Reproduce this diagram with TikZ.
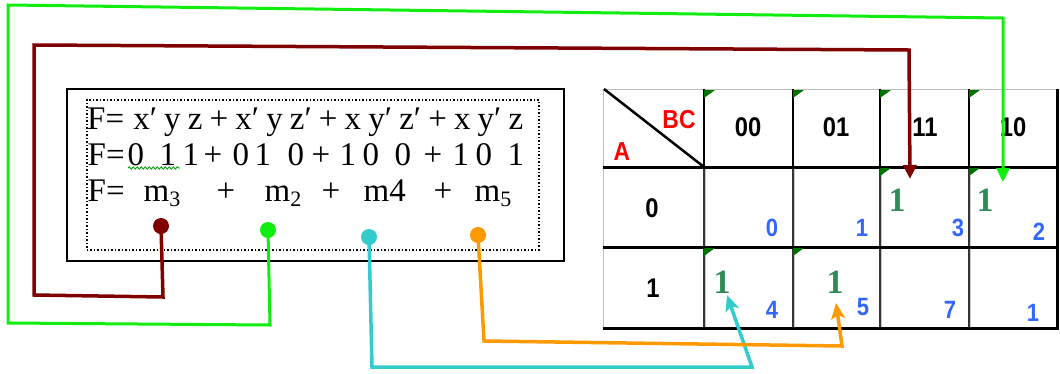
\documentclass[tikz,border=0pt]{standalone}
\usepackage{fontspec}
\setmainfont{Liberation Serif}
\newfontfamily\kfont[FakeStretch=0.88]{Liberation Sans}
\usetikzlibrary{arrows.meta,decorations.pathmorphing}
\definecolor{dred}{HTML}{800000}
\definecolor{lgreen}{HTML}{10EE10}
\definecolor{lcyan}{HTML}{33CCCC}
\definecolor{lorange}{HTML}{FF9900}
\definecolor{onegreen}{HTML}{2E8B57}
\definecolor{idxblue}{HTML}{3366FF}
\definecolor{cornergreen}{HTML}{007000}
\newcommand\tk[2]{\makebox[0pt][l]{\hspace*{#1pt}#2}}
\newcommand\sbs[1]{\raisebox{-5pt}{\fontsize{22}{22}\selectfont #1}}
\tikzset{
  eqtext/.style={anchor=base west, inner sep=0pt, font=\fontsize{33}{33}\selectfont},
  hdr/.style={inner sep=0pt, font=\kfont\bfseries\fontsize{27}{27}\selectfont},
  idx/.style={inner sep=0pt, text=idxblue, font=\kfont\bfseries\fontsize{25}{25}\selectfont},
  one/.style={inner sep=0pt, text=onegreen, font=\bfseries\fontsize{34}{34}\selectfont},
  lbl/.style={inner sep=0pt, text=red, font=\kfont\bfseries\fontsize{26}{26}\selectfont},
  dot/.style={circle, fill=#1, inner sep=0pt, minimum size=16pt},
  conn/.style={draw=#1, line width=3.5pt, line join=miter},
  thickl/.style={line width=3pt, black},
  corner/.style={fill=cornergreen},
}
\begin{document}
\begin{tikzpicture}[x=1pt,y=-1pt]
\useasboundingbox (0,0) rectangle (1060,373);
% equation box
\node[draw, line width=2pt, minimum width=497pt, minimum height=172pt, anchor=north west, inner sep=0pt] (eqbox) at (66,88) {};
\node[draw, dotted, line width=1.5pt, minimum width=452pt, minimum height=150pt, anchor=north west, inner sep=0pt] (dotbox) at (86,99) {};
\node[eqtext] (l1) at (87,129) {\makebox[436pt][s]{F=\hspace{2pt} x′ y z + x′ y z′ + x y′ z′ + x y′ z}};
\node[eqtext] (l2) at (87,165) {\tk{0}{F=}\tk{40}{0}\tk{72}{1}\tk{95}{1}\tk{116}{+}\tk{145}{0}\tk{167}{1}\tk{200}{0}\tk{224}{+}\tk{252}{1}\tk{275}{0}\tk{307}{0}\tk{336}{+}\tk{365}{1}\tk{388}{0}\tk{420}{1}};
\node[eqtext] (l3) at (87,201) {\tk{0}{F=}\tk{56}{m\sbs{3}}\tk{129}{+}\tk{177}{m\sbs{2}}\tk{234}{+}\tk{276}{m4}\tk{346}{+}\tk{387}{m\sbs{5}}};
\coordinate (w1) at (128,168);
\coordinate (w2) at (180,168);
\draw[green!60!black, line width=0.8pt, decorate, decoration={snake, amplitude=1.2pt, segment length=4pt}] (w1) -- (w2);
% K-map grid
\draw[gray!50, line width=1pt] (603,89) -- (1057,89);
\draw[gray!50, line width=1pt] (603,89) -- (603,328);
\foreach \x in {704,793,880,969} {
  \draw[line width=2.5pt] (\x,89) -- (\x,167);
  \draw[gray!40, line width=3pt] (\x,167) -- (\x,328);
  \draw[black!80, line width=1.2pt] (\x,167) -- (\x,328);
}
\draw[thickl] (603,167) -- (1057,167);
\draw[thickl] (603,247) -- (1057,247);
\draw[thickl] (603,328) -- (1058.5,328);
\draw[thickl] (1057,89) -- (1057,328);
\draw[line width=2.5pt] (604,89) -- (704,167);
% corner marks
\foreach \x/\y in {704/89,793/89,880/89,969/89,880/167,969/167,704/247,793/247} {
  \fill[corner] (\x,\y+1) -- (\x+11,\y+1) -- (\x,\y+9) -- cycle;
}
\node[lbl] (bc) at (679,120) {BC};
\node[lbl] (a) at (622,152) {A};
\node[hdr] (h00) at (748,127) {00};
\node[hdr] (h01) at (836,127) {01};
\node[hdr] (h11) at (925,127) {11};
\node[hdr] (h10) at (1013,127) {10};
\node[hdr] (r0) at (652,208) {0};
\node[hdr] (r1) at (653,288) {1};
\node[idx] (i0) at (772,228) {0};
\node[idx] (i1) at (862,228) {1};
\node[idx] (i3) at (958,228) {3};
\node[idx] (i2) at (1039,232) {2};
\node[idx] (i4) at (772,310) {4};
\node[idx] (i5) at (863,307) {5};
\node[idx] (i7) at (950,310) {7};
\node[idx] (i6) at (1033,313) {1};
\node[one] (o3) at (897,200) {1};
\node[one] (o2) at (985,200) {1};
\node[one] (o4) at (722,282) {1};
\node[one] (o5) at (835,282) {1};
% dots
\node[dot=dred] (dr) at (161,226) {};
\node[dot=lgreen] (dg) at (268,230) {};
\node[dot=lcyan] (dc) at (369,237) {};
\node[dot=lorange] (do) at (478,235) {};
% connector waypoints
\coordinate (ra) at (163,297);
\coordinate (rb) at (34,295);
\coordinate (rc) at (34,45);
\coordinate (rd) at (909,50);
\coordinate (rt) at (910,179);
\coordinate (ga) at (270,325);
\coordinate (gb) at (8,323);
\coordinate (gc) at (8,5);
\coordinate (gd) at (1003,18);
\coordinate (gt) at (1003,182);
\coordinate (ca) at (372,367);
\coordinate (cb) at (752,367);
\coordinate (ct) at (727,295);
\coordinate (oa) at (484,341);
\coordinate (ob) at (842,346);
\coordinate (ot) at (836,303);
\draw[conn=dred, -{Triangle[length=14pt,width=13pt]}] (dr.center) -- (ra) -- (rb) -- (rc) -- (rd) -- (rt);
\draw[conn=lgreen, line width=3pt, -{Triangle[length=14pt,width=13pt]}] (dg.center) -- (ga) -- (gb) -- (gc) -- (gd) -- (gt);
\draw[conn=lcyan, -{Stealth[length=16pt,width=14pt,inset=4pt]}] (dc.center) -- (ca) -- (cb) -- (ct);
\draw[conn=lorange, -{Stealth[length=16pt,width=14pt,inset=4pt]}] (do.center) -- (oa) -- (ob) -- (ot);
\end{tikzpicture}
\end{document}
